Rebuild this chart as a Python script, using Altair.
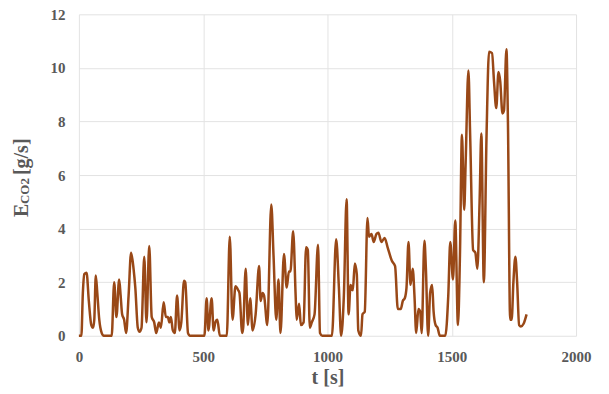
import altair as alt
import pandas as pd

t_s = [0, 10, 16, 22, 31, 40, 50, 57, 62, 68, 74, 82, 92, 100, 132, 142, 151, 162, 168, 174,
       182, 190, 200, 210, 220, 227, 237, 244, 252, 263, 272, 283, 293, 303, 311, 322, 330, 341,
       350, 358, 364, 370, 378, 386, 395, 405, 412, 423, 428, 439, 447, 505, 514, 521, 534, 542,
       549, 557, 567, 595, 607, 618, 630, 641, 646, 657, 661, 671, 680, 689, 699, 711, 725, 731,
       739, 745, 758, 774, 783, 794, 803, 811, 825, 836, 845, 851, 862, 872, 876, 886, 893, 904,
       914, 921, 929, 937, 948, 962, 970, 979, 1018, 1035, 1046, 1055, 1066, 1077, 1085, 1093,
       1102, 1110, 1118, 1124, 1135, 1141, 1150, 1161, 1167, 1177, 1186, 1197, 1205, 1217, 1230,
       1242, 1259, 1272, 1283, 1295, 1303, 1311, 1318, 1326, 1334, 1343, 1350, 1357, 1366, 1373,
       1379, 1390, 1396, 1405, 1413, 1421, 1427, 1435, 1443, 1452, 1474, 1486, 1494, 1505, 1514,
       1525, 1533, 1541, 1550, 1556, 1567, 1574, 1586, 1595, 1603, 1612, 1619, 1629, 1640, 1650,
       1662, 1670, 1679, 1688, 1695, 1704, 1710, 1720, 1726, 1735, 1741, 1748, 1756, 1763, 1771,
       1778, 1789, 1801]
e_co2 = [0, 0, 1.6, 2.3, 2.35, 1.3, 0.4, 0.3, 0.6, 2.25, 1.6, 0.6, 0.1, 0, 0, 2.0, 0.7, 2.1, 1.5, 0.8,
         0.6, 0.1, 1.5, 3.1, 2.5, 1.8, 0.3, 0.15, 0.3, 2.95, 0.5, 3.35, 0.7, 0.5, 0.1, 0.5, 0.3, 1.25,
         0.7, 0.7, 0.5, 0.7, 0.2, 0.1, 1.5, 0.2, 0.5, 2.05, 2.0, 0.1, 0, 0, 1.4, 0.2, 1.4, 0.2,
         0.5, 0.6, 0, 0, 3.7, 0.6, 1.85, 1.7, 1.6, 0.1, 0.3, 2.5, 0.4, 1.4, 0.2, 0.8, 2.6, 1.3,
         1.6, 1.5, 0.4, 4.9, 3.0, 0.6, 2.1, 0.1, 3.05, 1.8, 2.4, 2.4, 3.9, 1.5, 0.6, 1.2, 0.4, 0.5,
         3.3, 3.2, 0.3, 0.5, 0.8, 3.4, 0.1, 0, 0, 3.6, 1.8, 0, 1.5, 5.1, 0.8, 1.9,
         1.7, 2.7, 2.3, 0.2, 0, 0.8, 0.9, 4.4, 3.7, 3.8, 3.5, 3.8, 3.85, 3.5, 3.65,
         3.3, 2.8, 2.6, 1.0, 1.0, 1.3, 1.4, 1.8, 3.5, 1.9, 2.5, 1.5, 0.1, 1.0, 0.9,
         0.1, 3.55, 2.5, 0, 1.6, 1.9, 0.9, 0.4, 0.3, 0, 0, 1.5, 3.5, 2.1, 4.3,
         0.4, 3.0, 7.5, 4.7, 6.5, 9.9, 7.5, 3.2, 3.1, 2.5, 5.0, 7.55, 2.0, 7.5, 10.6,
         10.55, 9.5, 8.5, 9.85, 9.5, 8.3, 8.4, 10.7, 8.0, 0.6, 0.6, 2.0, 2.95, 2.0, 0.4,
         0.35, 0.45, 0.8]

x_ticks = [0, 500, 1000, 1500, 2000]
y_ticks = [0, 2, 4, 6, 8, 10, 12]

df = pd.DataFrame({"t": t_s, "e": e_co2})

FONT = "Liberation Serif"
GRAY = "#595959"
BROWN = "#994817"

line = alt.Chart(df).mark_line(color=BROWN, strokeWidth=2.5, interpolate="monotone").encode(
    x=alt.X("t:Q", scale=alt.Scale(domain=[0, 2000], nice=False),
            axis=alt.Axis(values=x_ticks, title="t [s]", grid=True, ticks=False, domain=False,
                          labelPadding=14, titlePadding=3, labelFontSize=15, labelFlush=False,
                          titleFontSize=20, format="d")),
    y=alt.Y("e:Q", scale=alt.Scale(domain=[0, 12], nice=False),
            axis=alt.Axis(values=y_ticks, title="", grid=True, ticks=False, domain=False,
                          labelPadding=14, labelFontSize=15, labelFlush=False, format="d")),
)

ttl = pd.DataFrame({"k": [0]})
e_txt = alt.Chart(ttl).mark_text(text="E", angle=270, align="left", baseline="alphabetic",
                                 font=FONT, fontSize=20, fontWeight="bold", color=GRAY).encode(
    x=alt.value(-51), y=alt.value(203))
co2_txt = alt.Chart(ttl).mark_text(text="CO2", angle=270, align="left", baseline="alphabetic",
                                   font=FONT, fontSize=13, fontWeight="bold", color=GRAY).encode(
    x=alt.value(-50), y=alt.value(190))
gs_txt = alt.Chart(ttl).mark_text(text="[g/s]", angle=270, align="left", baseline="alphabetic",
                                  font=FONT, fontSize=20, fontWeight="bold", color=GRAY).encode(
    x=alt.value(-51), y=alt.value(161))

chart = alt.layer(line, e_txt, co2_txt, gs_txt).properties(
    width=498, height=322,
    autosize=alt.AutoSizeParams(type="none"),
    padding={"left": 71, "top": 6, "right": 25, "bottom": 56},
).configure_view(stroke=None).configure_axis(
    labelFont=FONT, titleFont=FONT, labelColor=GRAY, titleColor=GRAY,
    labelFontWeight="bold", titleFontWeight="bold", gridColor="#E3E3E3", gridWidth=1,
)

chart.save("out.html", embed_options={"renderer": "svg", "actions": False})
